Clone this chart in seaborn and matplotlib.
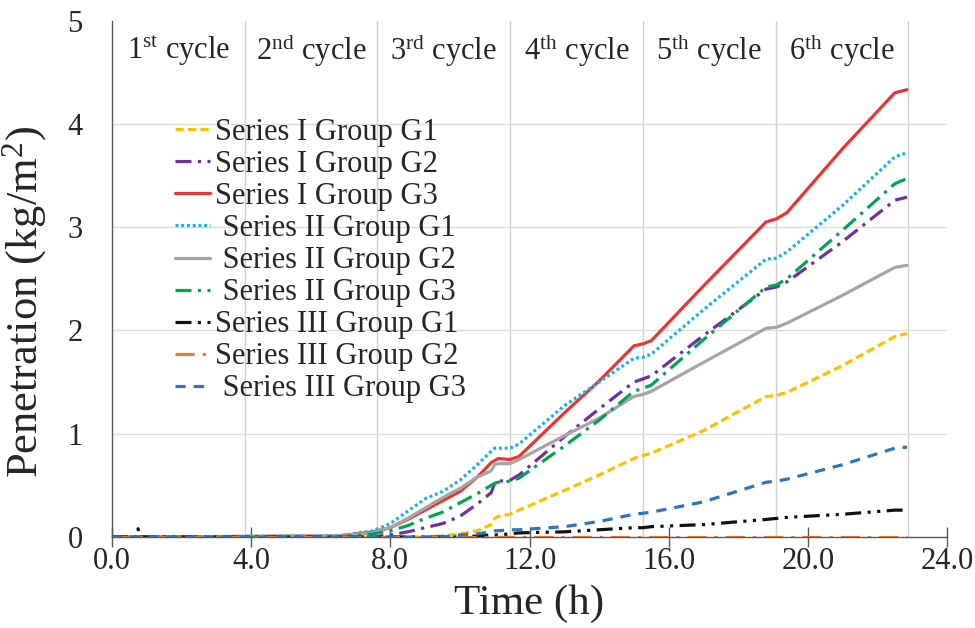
import matplotlib
matplotlib.use("Agg")
import matplotlib.pyplot as plt
import seaborn as sns
import pandas as pd

# ---------------- data ----------------
time_h = [0.0, 0.7, 0.75, 0.8, 6.5, 7.5, 8.0, 8.5, 9.0, 9.5, 10.0, 10.5, 10.9,
          11.0, 11.1, 11.44, 11.7, 13.0, 14.0, 15.0, 15.26, 15.5, 17.0, 18.8,
          19.1, 19.4, 21.0, 22.5, 22.85]

series_I_G1 = [0, 0, 0, 0, 0.0, 0.0, 0.0, 0.0, 0.0, 0.01, 0.03, 0.06, 0.12,
               0.18, 0.20, 0.22, 0.26, 0.45, 0.60, 0.76, 0.79, 0.81, 1.03, 1.36,
               1.37, 1.40, 1.66, 1.94, 1.97]
series_I_G2 = [0, 0, 0, 0, 0.0, 0.0, 0.02, 0.05, 0.09, 0.13, 0.20, 0.32, 0.43,
               0.52, 0.54, 0.55, 0.60, 0.97, 1.24, 1.50, 1.53, 1.56, 1.95, 2.40,
               2.42, 2.47, 2.86, 3.26, 3.29]
series_I_G3 = [0, 0, 0, 0, 0.01, 0.05, 0.09, 0.17, 0.26, 0.35, 0.44, 0.58, 0.72,
               0.74, 0.76, 0.75, 0.78, 1.20, 1.51, 1.85, 1.87, 1.90, 2.43, 3.05,
               3.08, 3.14, 3.76, 4.30, 4.33]
series_II_G1 = [0, 0, 0, 0, 0.01, 0.06, 0.13, 0.25, 0.37, 0.44, 0.55, 0.70, 0.83,
                0.86, 0.86, 0.86, 0.90, 1.27, 1.50, 1.73, 1.74, 1.77, 2.20, 2.69,
                2.70, 2.76, 3.21, 3.68, 3.72]
series_II_G2 = [0, 0, 0, 0, 0.01, 0.04, 0.09, 0.18, 0.28, 0.38, 0.47, 0.58, 0.64,
                0.70, 0.71, 0.71, 0.75, 0.98, 1.15, 1.36, 1.38, 1.41, 1.69, 2.02,
                2.03, 2.07, 2.34, 2.61, 2.63]
series_II_G3 = [0, 0, 0, 0, 0.0, 0.03, 0.06, 0.11, 0.18, 0.24, 0.33, 0.42, 0.50,
                0.52, 0.53, 0.54, 0.57, 0.88, 1.13, 1.41, 1.44, 1.47, 1.91, 2.42,
                2.44, 2.50, 2.97, 3.42, 3.47]
series_III_G1 = [0, 0, 0.08, 0, 0.0, 0.0, 0.0, 0.0, 0.0, 0.0, 0.0, 0.01, 0.02,
                 0.02, 0.02, 0.03, 0.04, 0.05, 0.07, 0.09, 0.09, 0.10, 0.12, 0.17,
                 0.18, 0.19, 0.22, 0.26, 0.26]
series_III_G2 = [0] * len(time_h)
series_III_G3 = [0, 0, 0, 0, 0.0, 0.0, 0.0, 0.0, 0.0, 0.0, 0.02, 0.03, 0.05,
                 0.06, 0.06, 0.07, 0.07, 0.10, 0.15, 0.22, 0.23, 0.24, 0.34, 0.53,
                 0.54, 0.56, 0.70, 0.86, 0.87]

series_values = [series_I_G1, series_I_G2, series_I_G3,
                 series_II_G1, series_II_G2, series_II_G3,
                 series_III_G1, series_III_G2, series_III_G3]
series_labels = ["Series I Group G1", "Series I Group G2", "Series I Group G3",
                 " Series II Group G1", " Series II Group G2", " Series II Group G3",
                 "Series III Group G1", "Series III Group G2", " Series III Group G3"]

cycle_edges_h = [0.0, 3.815, 7.63, 11.445, 15.26, 19.075, 22.89]
cycle_names = [r"1$^{\mathrm{st}}$ cycle", r"2$^{\mathrm{nd}}$ cycle",
               r"3$^{\mathrm{rd}}$ cycle", r"4$^{\mathrm{th}}$ cycle",
               r"5$^{\mathrm{th}}$ cycle", r"6$^{\mathrm{th}}$ cycle"]
x_ticks = [0, 4, 8, 12, 16, 20, 24]
x_tick_labels = ["0.0", "4.0", "8.0", "12.0", "16.0", "20.0", "24.0"]
y_ticks = [0, 1, 2, 3, 4, 5]
y_tick_labels = ["0", "1", "2", "3", "4", "5"]

# ---------------- styles ----------------
colors = ["#FFC000", "#7030A0", "#EE3333",
          "#10B4EE", "#A5A5A5", "#00A550",
          "#111111", "#ED7D31", "#2E75C0"]
linestyles = [(0, (2.6, 1.3)), (0, (5, 2, 1, 2)), "-",
              (0, (0.9, 0.9)), "-", (0, (5, 2, 1, 2)),
              (0, (5, 2, 1, 2, 1, 2)), (0, (6, 2.5, 1, 2.5)), (0, (3.2, 2.5))]

sns.set_theme(style="white")
plt.rcParams["font.family"] = ["Liberation Serif", "DejaVu Serif"]
plt.rcParams["mathtext.fontset"] = "custom"
plt.rcParams["mathtext.rm"] = "Liberation Serif"
plt.rcParams["mathtext.it"] = "Liberation Serif:italic"
plt.rcParams["mathtext.bf"] = "Liberation Serif:bold"

fig = plt.figure(figsize=(9.75, 6.28), dpi=100)
fig.patch.set_facecolor("white")
ax = fig.add_axes([112 / 975, 1 - 537 / 628, (947 - 112) / 975, (537 - 20.5) / 628])
ax.set_facecolor("white")

for vals, lab, col, ls in zip(series_values, series_labels, colors, linestyles):
    df = pd.DataFrame({"Time": time_h, "Penetration": vals})
    sns.lineplot(data=df, x="Time", y="Penetration", ax=ax, color=col,
                 linestyle=ls, linewidth=2.3, label=lab, legend=False,
                 estimator=None, sort=False)

ax.set_xlim(0, 24)
ax.set_ylim(0, 5)

# major x ticks (labelled) and cycle boundaries (grid)
ax.set_xticks(x_ticks)
ax.set_xticklabels(x_tick_labels)
ax.set_xticks(cycle_edges_h[1:], minor=True)
ax.set_yticks(y_ticks)
ax.set_yticklabels(y_tick_labels)

ax.grid(False)
ax.grid(which="minor", axis="x", color="#D0D0D0", linewidth=1.0)
ax.grid(which="major", axis="y", color="#DCDCDC", linewidth=1.0)
for gl, yv in zip(ax.yaxis.get_gridlines(), y_ticks):
    if yv in (0, 5):
        gl.set_visible(False)

ax.tick_params(axis="x", which="major", direction="inout", length=14, width=1.0,
               color="#595959", labelsize=22, pad=0, bottom=True)
ax.tick_params(axis="x", which="minor", length=0)
ax.tick_params(axis="y", which="both", length=0, labelsize=22, pad=21)

for side in ("top", "right"):
    ax.spines[side].set_visible(False)
for side in ("left", "bottom"):
    ax.spines[side].set_color("#595959")
    ax.spines[side].set_linewidth(1.0)

ax.set_xlabel("Time (h)", fontsize=31)
ax.set_ylabel(r"Penetration (kg/m$^{\mathrm{2}}$)", fontsize=32)
ax.xaxis.set_label_coords(0.5, -0.092)
ax.yaxis.set_label_coords(-0.076, 0.455)

for i, name in enumerate(cycle_names):
    xc = 0.5 * (cycle_edges_h[i] + cycle_edges_h[i + 1])
    ax.text(xc, 4.71, name, ha="center", va="center", fontsize=22)

handles, labs = ax.get_legend_handles_labels()
ax.legend(handles, labs, loc="upper left",
          bbox_to_anchor=(175 / 975, 1 - 118 / 628), bbox_transform=fig.transFigure,
          frameon=False, fontsize=22, handlelength=1.15, handletextpad=0.15,
          labelspacing=0.10, borderpad=0, borderaxespad=0)

fig.savefig("out.png", dpi=100, facecolor="white")
